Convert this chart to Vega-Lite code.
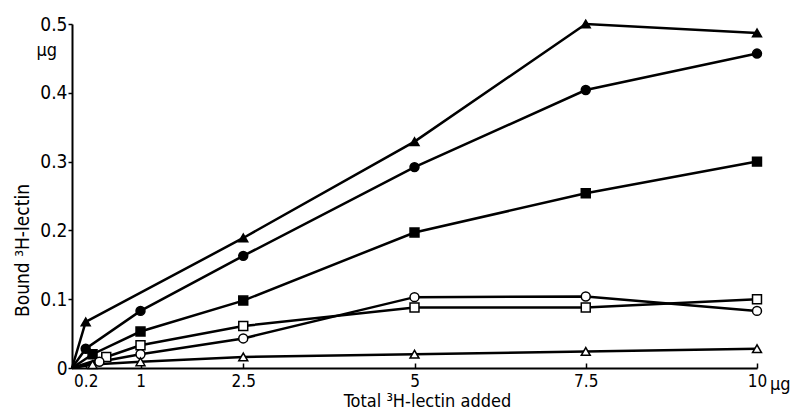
{
  "$schema": "https://vega.github.io/schema/vega-lite/v6.json",
  "width": 685,
  "height": 344,
  "autosize": "none",
  "padding": {"left": 72, "top": 24, "right": 34, "bottom": 43},
  "background": "white",
  "config": {
    "view": {"stroke": null},
    "font": "DejaVu Sans Condensed, Roboto, sans-serif"
  },
  "data": {
    "values": [
      {"series": "s1", "x": 0, "y": 0},
      {"series": "s1", "x": 0.2, "y": 0.067},
      {"series": "s1", "x": 2.5, "y": 0.189},
      {"series": "s1", "x": 5, "y": 0.329},
      {"series": "s1", "x": 7.5, "y": 0.5},
      {"series": "s1", "x": 10, "y": 0.487},
      {"series": "s2", "x": 0, "y": 0},
      {"series": "s2", "x": 0.2, "y": 0.028},
      {"series": "s2", "x": 1, "y": 0.083},
      {"series": "s2", "x": 2.5, "y": 0.163},
      {"series": "s2", "x": 5, "y": 0.292},
      {"series": "s2", "x": 7.5, "y": 0.404},
      {"series": "s2", "x": 10, "y": 0.457},
      {"series": "s3", "x": 0, "y": 0},
      {"series": "s3", "x": 0.3, "y": 0.02},
      {"series": "s3", "x": 1, "y": 0.053},
      {"series": "s3", "x": 2.5, "y": 0.098},
      {"series": "s3", "x": 5, "y": 0.197},
      {"series": "s3", "x": 7.5, "y": 0.254},
      {"series": "s3", "x": 10, "y": 0.3},
      {"series": "s4", "x": 0, "y": 0},
      {"series": "s4", "x": 0.5, "y": 0.016},
      {"series": "s4", "x": 1, "y": 0.033},
      {"series": "s4", "x": 2.5, "y": 0.061},
      {"series": "s4", "x": 5, "y": 0.088},
      {"series": "s4", "x": 7.5, "y": 0.088},
      {"series": "s4", "x": 10, "y": 0.1},
      {"series": "s5", "x": 0, "y": 0},
      {"series": "s5", "x": 0.4, "y": 0.009},
      {"series": "s5", "x": 1, "y": 0.02},
      {"series": "s5", "x": 2.5, "y": 0.043},
      {"series": "s5", "x": 5, "y": 0.103},
      {"series": "s5", "x": 7.5, "y": 0.104},
      {"series": "s5", "x": 10, "y": 0.083},
      {"series": "s6", "x": 0, "y": 0},
      {"series": "s6", "x": 0.3, "y": 0.005},
      {"series": "s6", "x": 1, "y": 0.009},
      {"series": "s6", "x": 2.5, "y": 0.016},
      {"series": "s6", "x": 5, "y": 0.02},
      {"series": "s6", "x": 7.5, "y": 0.024},
      {"series": "s6", "x": 10, "y": 0.028}
    ]
  },
  "encoding": {
    "x": {
      "field": "x",
      "type": "quantitative",
      "scale": {"domain": [0, 10], "nice": false, "zero": false},
      "axis": {
        "title": "Total ³H-lectin added",
        "values": [0.2, 1, 2.5, 5, 7.5, 10],
        "labelExpr": "'' + datum.value",
        "grid": false,
        "domainColor": "black",
        "domainWidth": 2,
        "tickColor": "black",
        "tickWidth": 1.5,
        "tickSize": -5,
        "labelPadding": 10,
        "labelFontSize": 17,
        "labelColor": "black",
        "labelFlush": false,
        "titleFontSize": 18,
        "titleFontWeight": "normal",
        "titleColor": "black",
        "titleX": 355,
        "titleY": 24,
        "titleBaseline": "top",
        "titleAlign": "center"
      }
    },
    "y": {
      "field": "y",
      "type": "quantitative",
      "scale": {"domain": [0, 0.5], "nice": false},
      "axis": {
        "title": "Bound ³H-lectin",
        "values": [0, 0.1, 0.2, 0.3, 0.4, 0.5],
        "labelExpr": "'' + datum.value",
        "grid": false,
        "domainColor": "black",
        "domainWidth": 2,
        "tickColor": "black",
        "tickWidth": 1.5,
        "tickSize": 4,
        "labelPadding": 1,
        "labelFontSize": 19,
        "labelColor": "black",
        "labelFlush": false,
        "titleFontSize": 19,
        "titleFontWeight": "normal",
        "titleColor": "black",
        "titleX": -50,
        "titleY": 226,
        "titleBaseline": "middle",
        "titleAlign": "center"
      }
    }
  },
  "layer": [
    {
      "mark": {"type": "line", "color": "black", "strokeWidth": 2.5},
      "encoding": {"detail": {"field": "series", "type": "nominal"}}
    },
    {
      "transform": [{"filter": "datum.x > 0"}],
      "mark": {"type": "point", "filled": true, "opacity": 1, "stroke": "black", "strokeWidth": 1.5},
      "encoding": {
        "shape": {
          "field": "series", "type": "nominal", "legend": null,
          "scale": {"domain": ["s1", "s2", "s3", "s4", "s5", "s6"],
                    "range": ["triangle-up", "circle", "square", "square", "circle", "triangle-up"]}
        },
        "fill": {
          "field": "series", "type": "nominal", "legend": null,
          "scale": {"domain": ["s1", "s2", "s3", "s4", "s5", "s6"],
                    "range": ["black", "black", "black", "white", "white", "white"]}
        },
        "size": {
          "field": "series", "type": "nominal", "legend": null,
          "scale": {"domain": ["s1", "s2", "s3", "s4", "s5", "s6"],
                    "range": [80, 80, 90, 90, 90, 80]}
        }
      }
    },
    {
      "data": {"values": [{"x": 0, "y": 0.5, "t": "µg"}]},
      "mark": {"type": "text", "fontSize": 18, "color": "black", "align": "right", "dx": -15, "dy": 27},
      "encoding": {"text": {"field": "t"}}
    },
    {
      "data": {"values": [{"x": 10, "y": 0, "t": "µg"}]},
      "mark": {"type": "text", "fontSize": 18, "color": "black", "align": "left", "baseline": "top", "dx": 13, "dy": 8},
      "encoding": {"text": {"field": "t"}}
    }
  ]
}
